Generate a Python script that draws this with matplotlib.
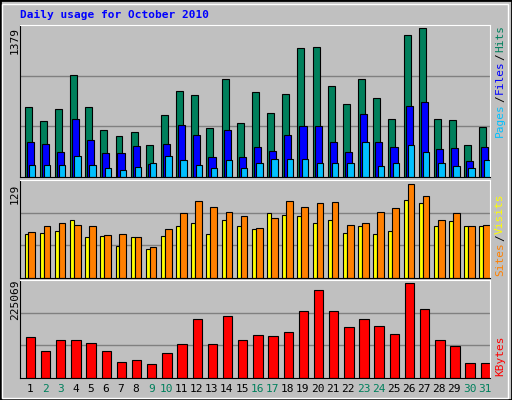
import numpy as np
import matplotlib
matplotlib.use('Agg')
import matplotlib.pyplot as plt
from matplotlib.patches import Rectangle

days = list(range(1, 32))
weekend = [2, 3, 9, 10, 16, 17, 23, 24, 30, 31]
hits = [649, 518, 630, 948, 649, 434, 378, 415, 293, 574, 799, 761, 452, 911, 499, 789,
        593, 771, 1192, 1201, 846, 677, 911, 733, 537, 1314, 1379, 537, 527, 293, 462]
files = [321, 303, 228, 537, 340, 218, 218, 284, 122, 303, 480, 387, 181, 434, 181, 275,
         237, 387, 471, 471, 321, 228, 583, 321, 275, 658, 696, 256, 265, 144, 275]
pages = [115, 115, 115, 190, 115, 87, 69, 97, 134, 190, 153, 115, 87, 153, 87, 125,
         162, 162, 162, 134, 125, 125, 321, 106, 134, 293, 228, 125, 106, 87, 153]
sites = [60, 61, 64, 79, 56, 57, 43, 56, 39, 57, 70, 74, 60, 78, 70, 67,
         88, 85, 84, 75, 79, 61, 71, 60, 64, 106, 102, 70, 77, 70, 71]
visits = [63, 70, 75, 72, 70, 58, 60, 56, 42, 67, 88, 104, 96, 89, 84, 68,
          81, 104, 96, 102, 103, 72, 74, 89, 95, 128, 111, 79, 88, 70, 72]
kbytes = [96900, 64900, 89500, 89500, 82100, 64900, 37800, 42700, 32900, 60000, 79700,
          138800, 79700, 146200, 89500, 101800, 99400, 109200, 158500, 207800, 158500,
          121600, 138800, 124000, 104300, 225069, 163400, 89500, 74700, 35300, 35300]

W, H = 512, 400
fig = plt.figure(figsize=(W / 100, H / 100), dpi=100)
fig.patch.set_facecolor('#C0C0C0')
mono = 'DejaVu Sans Mono'

# outer border
fig.add_artist(Rectangle((0, 0), 1, 1, transform=fig.transFigure, fill=False,
                         edgecolor='black', lw=2))
fig.add_artist(Rectangle((2 / W, 2 / H), 1 - 6 / W, 1 - 6 / H, transform=fig.transFigure,
                         fill=False, edgecolor='white', lw=1))

def make_ax(top, bottom):
    ax = fig.add_axes([20 / W, 1 - bottom / H, 470 / W, (bottom - top) / H])
    ax.set_facecolor('#C0C0C0')
    ax.set_xlim(0, 31)
    ax.set_xticks([])
    ax.set_yticks([])
    for s in ax.spines.values():
        s.set_color('black')
    ax.spines['top'].set_color('white')
    ax.spines['right'].set_color('white')
    return ax

def bars(ax, vals, x0, x1, color):
    x = np.arange(31) + x0
    ax.bar(x, vals, width=x1 - x0, align='edge', color=color, edgecolor='black', lw=0.8)

def grid(ax, top):
    for f in (1 / 3, 2 / 3):
        ax.axhline(top * f, color='#808080', lw=1, zorder=0)

ax1 = make_ax(25, 177)
t1 = 1379 * 1.02
ax1.set_ylim(0, t1)
grid(ax1, t1)
bars(ax1, hits, 0.30, 0.76, '#00805C')
bars(ax1, files, 0.43, 0.90, '#0000FF')
bars(ax1, pages, 0.58, 1.00, '#00C0FF')

ax2 = make_ax(180, 278)
t2 = 129 * 1.03
ax2.set_ylim(0, t2)
grid(ax2, t2)
bars(ax2, sites, 0.30, 0.56, '#FFFF00')
bars(ax2, visits, 0.56, 1.00, '#FF8000')

ax3 = make_ax(280, 378)
t3 = 225069 * 1.03
ax3.set_ylim(0, t3)
grid(ax3, t3)
bars(ax3, kbytes, 0.38, 1.00, '#FF0000')

fig.text(20 / W, 1 - 15 / H, 'Daily usage for October 2010', color='#0000FF',
         family=mono, weight='bold', fontsize=8, va='center')
fig.text(15 / W, 1 - 40 / H, '1379', rotation=90, family=mono, fontsize=8, ha='center', va='center')
fig.text(15 / W, 1 - 194 / H, '129', rotation=90, family=mono, fontsize=8, ha='center', va='center')
fig.text(15 / W, 1 - 300 / H, '225069', rotation=90, family=mono, fontsize=8, ha='center', va='center')

# right side rotated labels, stacked upward using measured extents
renderer = fig.canvas.get_renderer()

def vlabel(parts, y_bottom):
    y = y_bottom
    for txt, col in parts:
        t = fig.text(500 / W, 1 - y / H, txt, rotation=90, family=mono,
                     fontsize=8, color=col, ha='center', va='bottom')
        bb = t.get_window_extent(renderer)
        y -= bb.height + 1

vlabel([('Pages', '#00C0FF'), ('/', '#000000'), ('Files', '#0000FF'),
        ('/', '#000000'), ('Hits', '#00805C')], 137)
vlabel([('Sites', '#FF8000'), ('/', '#000000'), ('Visits', '#FFFF00')], 276)
vlabel([('KBytes', '#FF0000')], 376)

for d in days:
    col = '#00805C' if d in weekend else 'black'
    fig.text((20 + (d - 1 + 0.65) * 470 / 31) / W, 1 - 389 / H, str(d), color=col,
             family=mono, fontsize=8, ha='center', va='center')

fig.savefig('out.png', dpi=100, facecolor=fig.get_facecolor())
